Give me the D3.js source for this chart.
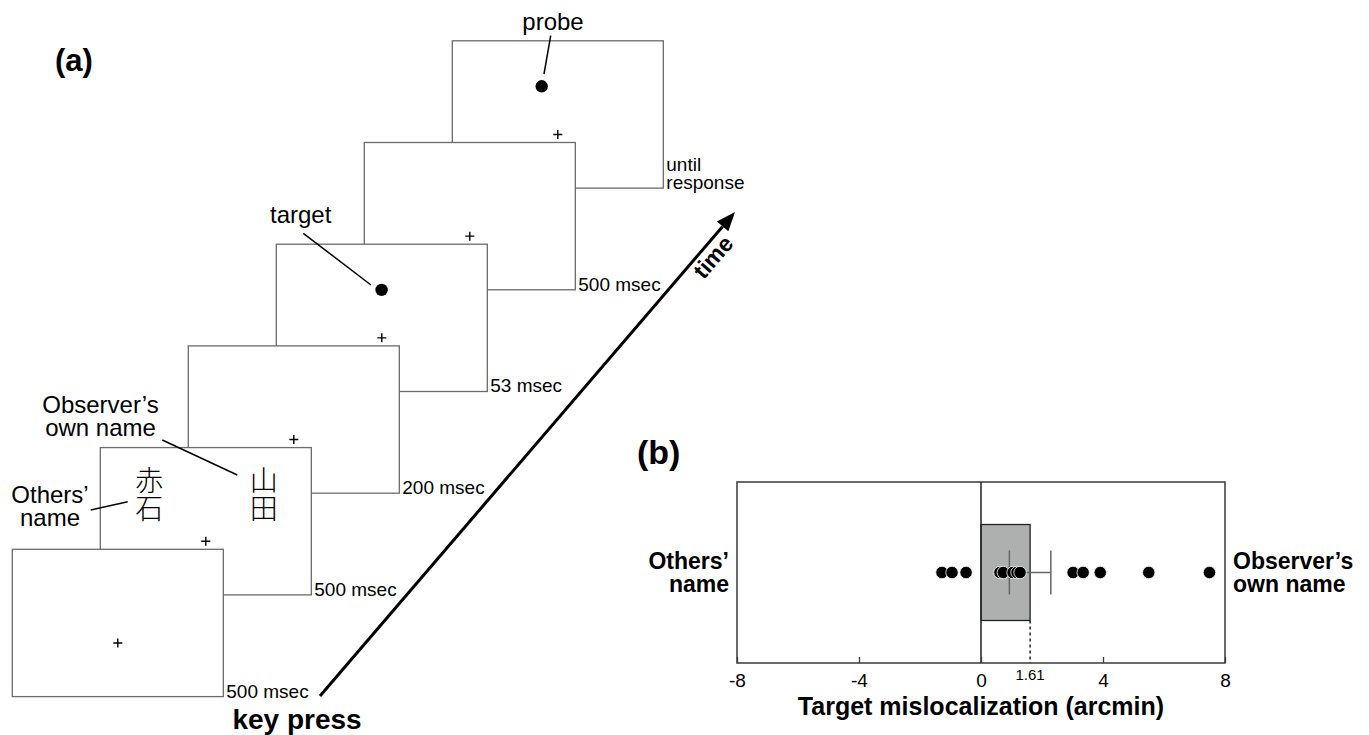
<!DOCTYPE html>
<html>
<head>
<meta charset="utf-8">
<script src="https://cdn.jsdelivr.net/npm/d3@7"></script>
<style>
  body { margin: 0; background: #fff; }
  svg { display: block; font-family: "Liberation Sans", Arial, Helvetica, sans-serif; }
</style>
</head>
<body>
<script>
// (a) trial sequence, front frame first
const frameDurations = ["500 msec", "500 msec", "200 msec", "53 msec", "500 msec", "until response"];
const frameContents = ["fixation", "names", "blank", "target", "blank", "probe"];
const otherName = "赤石";
const ownName = "山田";

// (b) target mislocalization of each observer (arcmin)
const observerShifts = [-1.28, -0.95, -0.49, 0.62, 0.73, 1.05, 1.18, 1.28, 3.02, 3.35, 3.91, 5.5, 7.49];
const meanShift = 1.61;
const meanError = 0.68;
const xTicks = [-8, -4, 0, 4, 8];

const W = 1369, H = 735;
const svg = d3.select("body").append("svg").attr("width", W).attr("height", H);

// ---------- panel (a) ----------
svg.append("text").attr("x", 55).attr("y", 71)
  .attr("font-size", 31).attr("font-weight", "bold").text("(a)");

const fw = 211, fh = 147.3;
const frameX = d3.scaleLinear().domain([0, 5]).range([12.3, 452.3]);
const frameY = d3.scaleLinear().domain([0, 5]).range([549.3, 40.8]);

const frames = frameDurations.map((d, i) => ({ i, dur: d, content: frameContents[i] })).reverse();

const fg = svg.selectAll("g.frame")
  .data(frames)
  .join("g")
  .attr("class", "frame")
  .attr("transform", d => `translate(${frameX(d.i)},${frameY(d.i)})`);

fg.append("rect")
  .attr("width", fw).attr("height", fh)
  .attr("fill", "#fff").attr("stroke", "#6b6b6b").attr("stroke-width", 1.3);

// fixation cross
fg.append("path")
  .attr("d", `M${fw / 2 - 4.5},${fh / 2 + 20}h9M${fw / 2},${fh / 2 + 15.5}v9`)
  .attr("stroke", "#000").attr("stroke-width", 1.4);

// duration labels
fg.append("text")
  .attr("x", fw + 3)
  .attr("font-size", 19)
  .each(function (d) {
    const words = d.dur === "until response" ? ["until", "response"] : [d.dur];
    d3.select(this).selectAll("tspan").data(words).join("tspan")
      .attr("x", fw + 3)
      .attr("y", (w, k) => fh + 1 - (words.length - 1 - k) * 17.7)
      .text(w => w);
  });

// target / probe dots
fg.filter(d => d.content === "target").append("circle")
  .attr("cx", 105.3).attr("cy", 45.7).attr("r", 6.2).attr("fill", "#000");
fg.filter(d => d.content === "probe").append("circle")
  .attr("cx", 89.4).attr("cy", 45.5).attr("r", 6.2).attr("fill", "#000");

// name stimuli, written vertically
fg.filter(d => d.content === "names").selectAll(null)
  .data([[otherName, 49], [ownName, 163.5]])
  .join("text")
  .attr("x", d => d[1]).attr("y", 47)
  .attr("text-anchor", "middle")
  .style("writing-mode", "vertical-rl")
  .attr("font-family", "'Noto Sans CJK JP', sans-serif")
  .attr("font-weight", 300)
  .attr("fill", "#000")
  .attr("font-size", 28).text(d => d[0]);

// annotations
const ann = svg.append("g").attr("font-size", 24).attr("text-anchor", "middle");
const lines = [
  [[550.7, 35.7], [544, 74]],
  [[303.3, 233.3], [371, 285]],
  [[162.3, 440], [237.3, 475]],
  [[90.7, 510], [127.7, 501.7]]
];
ann.selectAll("line").data(lines).join("line")
  .attr("x1", d => d[0][0]).attr("y1", d => d[0][1])
  .attr("x2", d => d[1][0]).attr("y2", d => d[1][1])
  .attr("stroke", "#000").attr("stroke-width", 1.5);
const labels = [
  [["probe"], 553, 30], [["target"], 300.7, 223],
  [["Observer’s", "own name"], 100.5, 413],
  [["Others’", "name"], 50, 503]
];
ann.selectAll("text").data(labels).join("text")
  .each(function (d) {
    d3.select(this).selectAll("tspan").data(d[0]).join("tspan")
      .attr("x", d[1]).attr("y", (w, k) => d[2] + k * 23.3).text(w => w);
  });

// time arrow
const a0 = [320, 696], a1 = [735, 212];
const ang = Math.atan2(a1[1] - a0[1], a1[0] - a0[0]);
const headL = 19, headW = 7.5;
const base = [a1[0] - headL * Math.cos(ang), a1[1] - headL * Math.sin(ang)];
svg.append("line")
  .attr("x1", a0[0]).attr("y1", a0[1]).attr("x2", base[0]).attr("y2", base[1])
  .attr("stroke", "#000").attr("stroke-width", 3);
svg.append("path")
  .attr("d", d3.line()([
    a1,
    [base[0] + headW * Math.sin(ang), base[1] - headW * Math.cos(ang)],
    [base[0] - headW * Math.sin(ang), base[1] + headW * Math.cos(ang)]
  ]) + "Z")
  .attr("fill", "#000");
svg.append("text")
  .attr("transform", `translate(713,257) rotate(${ang * 180 / Math.PI})`)
  .attr("text-anchor", "middle").attr("dominant-baseline", "central")
  .attr("font-size", 23).attr("font-weight", "bold").text("time");
svg.append("text").attr("x", 297).attr("y", 729)
  .attr("text-anchor", "middle").attr("font-size", 28).attr("font-weight", "bold")
  .text("key press");

// ---------- panel (b) ----------
svg.append("text").attr("x", 637).attr("y", 464)
  .attr("font-size", 34).attr("font-weight", "bold").text("(b)");

const x = d3.scaleLinear().domain([-8, 8]).range([737, 1225]);
const y = d3.scaleBand().domain(["row"]).range([482, 663]);
const cy = y("row") + y.bandwidth() / 2;
const boxH = 96;

svg.append("rect")
  .attr("x", x(-8)).attr("y", y.range()[0])
  .attr("width", x(8) - x(-8)).attr("height", y.bandwidth())
  .attr("fill", "none").attr("stroke", "#3a3a3a").attr("stroke-width", 1.5);

svg.append("rect")
  .attr("x", x(0)).attr("y", cy - boxH / 2)
  .attr("width", x(meanShift) - x(0)).attr("height", boxH)
  .attr("fill", "#adb0af").attr("stroke", "#222").attr("stroke-width", 1.3);

svg.append("line")
  .attr("x1", x(0)).attr("x2", x(0)).attr("y1", y.range()[0]).attr("y2", y.range()[1])
  .attr("stroke", "#222").attr("stroke-width", 1.5);

svg.append("line")
  .attr("x1", x(meanShift)).attr("x2", x(meanShift))
  .attr("y1", cy + boxH / 2).attr("y2", y.range()[1])
  .attr("stroke", "#222").attr("stroke-width", 1.5).attr("stroke-dasharray", "3,3");

// error bar
const eb = svg.append("g").attr("stroke", "#666").attr("stroke-width", 1.5);
eb.append("line").attr("x1", x(meanShift - meanError)).attr("x2", x(meanShift + meanError))
  .attr("y1", cy).attr("y2", cy);
eb.selectAll(".cap").data([meanShift - meanError, meanShift + meanError]).join("line")
  .attr("x1", d => x(d)).attr("x2", d => x(d))
  .attr("y1", cy - 22).attr("y2", cy + 22);

svg.selectAll("circle.obs").data(observerShifts).join("circle")
  .attr("class", "obs")
  .attr("cx", d => x(d)).attr("cy", cy).attr("r", 6.2)
  .attr("fill", "#000").attr("stroke", "#fff").attr("stroke-width", 0.8);

const axis = svg.append("g")
  .attr("transform", `translate(0,${y.range()[1]})`)
  .call(d3.axisBottom(x).tickValues(xTicks).tickFormat(d => String(d))
    .tickSizeInner(-6).tickSizeOuter(0).tickPadding(11));
axis.select(".domain").remove();
axis.selectAll("line").attr("stroke", "#3a3a3a").attr("stroke-width", 1.3);
axis.selectAll("text").attr("font-size", 19).attr("font-family", null).attr("fill", "#000");

svg.append("text").attr("x", x(meanShift)).attr("y", 680)
  .attr("text-anchor", "middle").attr("font-size", 15).text(meanShift.toFixed(2));

svg.append("text").attr("x", x(0)).attr("y", 715)
  .attr("text-anchor", "middle").attr("font-size", 25).attr("font-weight", "bold")
  .text("Target mislocalization (arcmin)");

const side = svg.append("g").attr("font-size", 23).attr("font-weight", "bold");
side.append("text").attr("text-anchor", "end")
  .selectAll("tspan").data(["Others’", "name"]).join("tspan")
  .attr("x", x(-8) - 8).attr("y", (w, k) => cy - 4 + k * 23).text(w => w);
side.append("text")
  .selectAll("tspan").data(["Observer’s", "own name"]).join("tspan")
  .attr("x", x(8) + 8).attr("y", (w, k) => cy - 4 + k * 23).text(w => w);
</script>
</body>
</html>
